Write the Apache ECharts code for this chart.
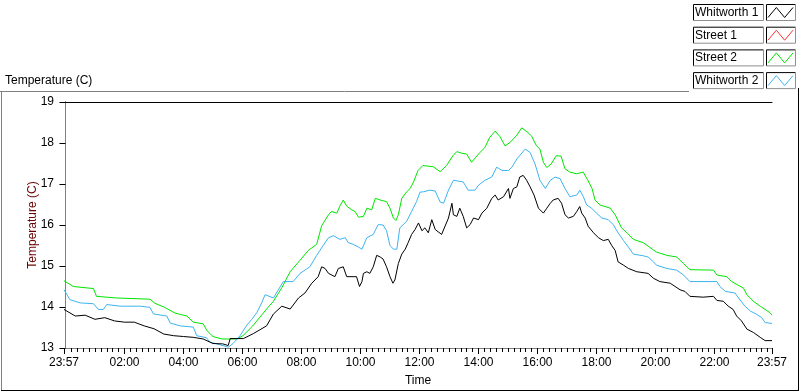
<!DOCTYPE html>
<html>
<head>
<meta charset="utf-8">
<script src="https://cdn.jsdelivr.net/npm/echarts@6/dist/echarts.min.js"></script>
<style>
html,body{margin:0;padding:0;background:#fff}
#main{width:800px;height:392px}
</style>
</head>
<body>
<div id="main"></div>
<script>
// time = minutes from 00:00 (-3 = 23:57 of the day before, 1437 = 23:57)
var w1Times = [-3,20,40,60,80,100,120,140,160,180,200,220,240,260,280,300,320,331,335,362,
	382,409,423,440,457,474,487,501,514,521,528,535,548,555,565,572,585,592,598,603,
	606,613,619,626,633,640,646,653,660,666,670,677,684,691,697,704,711,718,725,731,
	738,745,752,765,772,779,786,789,796,802,809,816,823,830,840,847,857,867,874,880,
	891,901,904,911,918,924,931,938,945,953,962,972,979,986,992,1002,1009,1016,1023,1033,
	1040,1046,1050,1057,1063,1074,1084,1094,1104,1111,1118,1124,1135,1145,1162,1185,1196,1209,1230,1250,
	1260,1270,1297,1318,1325,1338,1348,1358,1365,1375,1386,1399,1413,1423,1437];
var whitworth1 = [13.94,13.78,13.80,13.70,13.74,13.66,13.63,13.63,13.54,13.47,13.34,13.30,13.28,13.26,13.22,13.11,13.10,13.06,13.23,13.23,
	13.35,13.54,13.83,14.02,13.95,14.22,14.34,14.58,14.74,14.98,14.94,14.82,14.74,14.94,14.98,14.74,14.74,14.74,14.50,14.62,
	14.82,14.86,14.82,14.98,15.26,15.22,15.17,14.98,14.74,14.58,14.66,15.06,15.29,15.41,15.57,15.77,15.89,16.05,15.86,15.93,
	15.81,16.13,15.89,15.77,15.97,16.17,16.53,16.25,16.21,16.41,16.21,15.93,16.01,16.17,16.13,16.29,16.41,16.65,16.73,16.61,
	16.69,16.89,16.65,16.89,16.93,17.17,17.21,17.09,16.93,16.73,16.41,16.29,16.41,16.53,16.61,16.65,16.53,16.25,16.17,16.21,
	16.33,16.45,16.29,16.17,15.97,15.81,15.69,15.62,15.65,15.50,15.38,15.10,15.02,14.94,14.86,14.82,14.70,14.62,14.58,14.42,
	14.38,14.26,14.24,14.26,14.16,14.14,14.02,13.94,13.78,13.66,13.46,13.38,13.26,13.18,13.18];

var s1Times = [];
var street1 = [];

var s2Times = [-3,16,57,63,104,172,182,202,223,247,260,280,288,300,318,349,361,381,409,423,
	440,457,477,494,511,521,535,541,552,558,565,572,582,589,596,606,613,623,630,640,
	653,660,667,672,677,684,694,701,708,717,727,748,762,775,788,796,806,816,826,840,
	853,863,874,884,894,904,918,928,939,948,958,965,972,979,988,998,1008,1016,1026,1040,
	1053,1063,1071,1077,1087,1108,1118,1131,1142,1155,1175,1202,1223,1243,1257,1270,1318,1325,1345,1355,
	1379,1386,1399,1413,1433,1437];
var street2 = [14.64,14.50,14.45,14.26,14.22,14.19,14.09,13.99,13.85,13.78,13.63,13.59,13.42,13.28,13.22,13.22,13.30,13.54,13.95,14.14,
	14.47,14.86,15.14,15.38,15.53,15.98,16.25,16.33,16.29,16.46,16.61,16.46,16.37,16.33,16.19,16.21,16.41,16.37,16.65,16.61,
	16.57,16.41,16.17,16.11,16.25,16.65,16.81,16.89,17.05,17.33,17.45,17.42,17.30,17.45,17.69,17.79,17.75,17.73,17.53,17.73,
	17.89,18.14,18.29,18.15,17.93,18.01,18.19,18.37,18.27,18.17,17.93,17.85,17.53,17.40,17.49,17.69,17.68,17.37,17.29,17.25,
	17.29,17.08,16.89,16.61,16.49,16.41,16.25,15.93,15.81,15.65,15.57,15.34,15.26,15.22,15.06,14.91,14.90,14.78,14.74,14.62,
	14.46,14.30,14.14,14.02,13.86,13.80];

var w2Times = [-3,9,30,57,67,77,84,111,152,172,179,206,213,233,260,267,287,294,308,331,
	341,355,369,379,389,399,406,423,433,443,463,477,497,511,524,535,545,558,569,575,
	585,596,603,613,626,636,646,653,660,667,674,680,694,704,714,721,728,741,752,762,
	769,779,789,809,819,833,840,853,867,877,888,901,908,918,935,945,955,965,976,986,
	996,1006,1016,1026,1040,1046,1053,1060,1070,1080,1091,1104,1114,1124,1135,1145,1155,1175,1185,1196,
	1202,1223,1243,1257,1270,1325,1331,1342,1362,1369,1382,1393,1406,1416,1423,1437];
var whitworth2 = [14.42,14.18,14.10,14.08,13.94,13.94,14.06,14.02,14.02,13.99,13.83,13.78,13.61,13.54,13.51,13.30,13.25,13.14,13.10,13.02,
	13.11,13.30,13.56,13.70,13.86,14.10,14.30,14.22,14.42,14.62,14.62,14.82,14.98,15.26,15.50,15.69,15.74,15.65,15.69,15.57,
	15.53,15.46,15.41,15.69,15.77,16.01,16.00,15.86,15.50,15.41,15.41,15.93,16.09,16.33,16.57,16.80,16.81,16.85,16.83,16.56,
	16.53,16.85,17.09,17.05,16.85,16.85,16.97,17.09,17.17,17.41,17.33,17.33,17.41,17.61,17.85,17.77,17.49,17.09,16.89,17.09,
	17.17,17.13,16.89,16.69,16.73,16.85,16.70,16.49,16.41,16.29,16.17,16.13,16.01,15.81,15.62,15.46,15.29,15.25,15.22,15.10,
	15.02,14.94,14.90,14.78,14.62,14.62,14.50,14.38,14.34,14.22,14.02,13.90,13.82,13.74,13.62,13.60];

var seriesNames = ['Whitworth 1', 'Street 1', 'Street 2', 'Whitworth 2'];
var seriesColors = ['#000000', '#ff3030', '#00e600', '#3cb4f0'];
var majorTicks = [-3, 120, 240, 360, 480, 600, 720, 840, 960, 1080, 1200, 1320, 1437];

var FONT = 'Liberation Sans';

/** --------辅助函数 ------ */
function pairs(ts, vals) {
	var out = [];
	for (var i = 0; i < vals.length; i++) {
		out.push([ts[i], vals[i]]);
	}
	return out;
}

function timeFormatter(v) {
	var m = Math.round((v + 1440) % 1440);
	var hh = Math.floor(m / 60);
	var mm = m % 60;
	return (hh < 10 ? '0' : '') + hh + ':' + (mm < 10 ? '0' : '') + mm;
}

// one category per minute, only used to place the tick marks
var tickCats = [];
for (var k = -3; k <= 1437; k++) {
	tickCats.push(k);
}
function isMajor(idx) {
	var m = idx - 3;
	return m == -3 || m == 1437 || (m > 0 && m % 120 == 0);
}
function isMinor(idx) {
	var m = idx - 3;
	return m > 0 && m < 1437 && m % 12 == 0 && m % 120 != 0;
}

/** --------边框和图例方框 ------ */
function buildGraphic() {
	var g = [];
	// outer frame
	g.push({type:'line', shape:{x1:0, y1:91.5, x2:689, y2:91.5}, style:{stroke:'#808080', lineWidth:1}, silent:true});
	g.push({type:'line', shape:{x1:1.5, y1:91.5, x2:1.5, y2:390.5}, style:{stroke:'#808080', lineWidth:1}, silent:true});
	g.push({type:'line', shape:{x1:1, y1:390.5, x2:799, y2:390.5}, style:{stroke:'#000', lineWidth:1}, silent:true});
	g.push({type:'line', shape:{x1:798.5, y1:88, x2:798.5, y2:391}, style:{stroke:'#000', lineWidth:1}, silent:true});
	// legend boxes
	for (var i = 0; i < 4; i++) {
		var y0 = 4.5 + i * 22.7;
		var boxes = [[693.5, 763.5], [766.5, 795.5]];
		for (var b = 0; b < boxes.length; b++) {
			var x0 = boxes[b][0], x1 = boxes[b][1], y1 = y0 + 16;
			g.push({type:'polyline', shape:{points:[[x0, y1], [x0, y0], [x1, y0]]}, style:{stroke:'#000', fill:null, lineWidth:1}, silent:true});
			g.push({type:'polyline', shape:{points:[[x1, y0], [x1, y1], [x0, y1]]}, style:{stroke:'#909090', fill:null, lineWidth:1}, silent:true});
		}
	}
	// title
	g.push({type:'text', left:5, top:75, style:{text:'Temperature (C)', fill:'#000', font:'12px "' + FONT + '"'}, silent:true});
	return g;
}

var chart = echarts.init(document.getElementById('main'));

var lineSeries = [];
var legendData = [];
var allTimes = [w1Times, s1Times, s2Times, w2Times];
var allData = [whitworth1, street1, street2, whitworth2];
for (var s = 0; s < seriesNames.length; s++) {
	lineSeries.push({
		name: seriesNames[s],
		type: 'line',
		xAxisIndex: 0,
		yAxisIndex: 0,
		data: pairs(allTimes[s], allData[s]),
		showSymbol: false,
		symbol: 'none',
		z: s == 0 ? 5 : 2,
		lineStyle: {color: seriesColors[s], width: 1},
		itemStyle: {color: seriesColors[s]},
		animation: false
	});
	legendData.push({
		name: seriesNames[s],
		icon: 'path://M0,12L6,0L12,12L18,0',
		itemStyle: {color: 'rgba(0,0,0,0)', borderColor: seriesColors[s], borderWidth: 1}
	});
}

var option = {
	backgroundColor: '#fff',
	animation: false,
	textStyle: {fontFamily: FONT},
	grid: {left: 64, top: 102, right: 28, bottom: 40, containLabel: false},
	legend: {
		orient: 'vertical',
		left: 695,
		top: 4.5,
		padding: 0,
		align: 'right',
		itemWidth: 25,
		itemHeight: 10,
		itemGap: 6.7,
		selectedMode: false,
		symbolKeepAspect: false,
		formatter: function(name) {
			return '{n|' + name + '}';
		},
		textStyle: {
			fontSize: 12, color: '#000', fontFamily: FONT,
			rich: {n: {width: 68, height: 16, lineHeight: 16, align: 'left', fontSize: 12, color: '#000', fontFamily: FONT}}
		},
		data: legendData
	},
	xAxis: [{
		type: 'value',
		min: -3,
		max: 1437,
		position: 'bottom',
		name: 'Time',
		nameLocation: 'middle',
		nameGap: 27,
		nameMoveOverlap: false,
		nameTextStyle: {fontSize: 12, color: '#000'},
		axisLine: {show: true, lineStyle: {color: '#808080', width: 1}},
		axisTick: {show: false},
		axisLabel: {show: true, customValues: majorTicks, formatter: timeFormatter, margin: 9, fontSize: 12, color: '#000', showMinLabel: true, showMaxLabel: true},
		splitLine: {show: false}
	}, {
		type: 'category',
		data: tickCats,
		boundaryGap: false,
		position: 'bottom',
		axisLine: {show: false},
		axisTick: {show: true, length: 6, interval: isMajor, lineStyle: {color: '#000'}},
		axisLabel: {show: false, interval: isMajor},
		splitLine: {show: false}
	}, {
		type: 'category',
		data: tickCats,
		boundaryGap: false,
		position: 'bottom',
		axisLine: {show: false},
		axisTick: {show: true, length: 4, interval: isMinor, lineStyle: {color: '#000'}},
		axisLabel: {show: false, interval: isMinor},
		splitLine: {show: false}
	}, {
		type: 'value',
		min: -3,
		max: 1437,
		position: 'top',
		axisLine: {show: true, lineStyle: {color: '#000', width: 1}},
		axisTick: {show: false},
		axisLabel: {show: false},
		splitLine: {show: false}
	}],
	yAxis: [{
		type: 'value',
		min: 13,
		max: 19,
		interval: 1,
		position: 'left',
		name: 'Temperature (C)',
		nameLocation: 'middle',
		nameGap: 25,
		nameMoveOverlap: false,
		nameRotate: 90,
		nameTextStyle: {fontSize: 12, color: '#6a0000'},
		axisLine: {show: true, lineStyle: {color: '#000', width: 1}},
		axisTick: {show: true, length: 6, lineStyle: {color: '#000'}},
		axisLabel: {margin: 10, fontSize: 12, color: '#000'},
		splitLine: {show: false}
	}, {
		type: 'value',
		min: 13,
		max: 19,
		position: 'right',
		axisLine: {show: true, lineStyle: {color: '#808080', width: 1}},
		axisTick: {show: false},
		axisLabel: {show: false},
		splitLine: {show: false}
	}],
	graphic: buildGraphic(),
	series: lineSeries
};

chart.setOption(option);
</script>
</body>
</html>
